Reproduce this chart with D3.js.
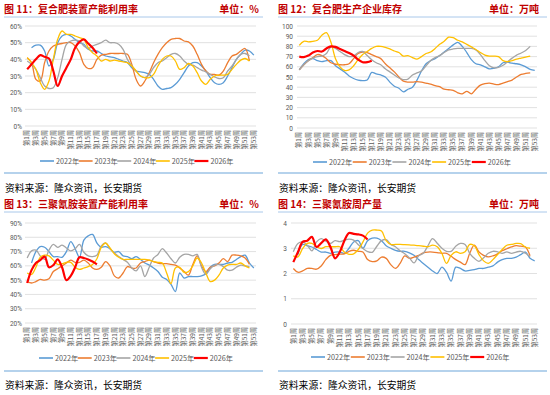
<!DOCTYPE html>
<html>
<head>
<meta charset="utf-8">
<script src="https://cdn.jsdelivr.net/npm/d3@7"></script>
<style>
  body { margin: 0; background: #fff; }
  svg { font-family: "Noto Sans CJK SC", "Noto Sans", sans-serif; }
</style>
</head>
<body>
<svg id="chart" width="550" height="395"></svg>
<script>
// categories
const weeks = d3.range(1, 54).map(i => "第" + i + "周");
const years = ["2022年", "2023年", "2024年", "2025年", "2026年"];
const colors = ["#5B9BD5", "#ED7D31", "#A5A5A5", "#FFC000", "#FF0000"];
const titles = ["图 11：复合肥装置产能利用率", "图 12：复合肥生产企业库存", "图 13：三聚氰胺装置产能利用率", "图 14：三聚氰胺周产量"];
const units = ["单位：%", "单位：万吨", "单位：%", "单位：万吨"];
const source = "资料来源：隆众资讯，长安期货";
const _ = null;

// 图11 复合肥装置产能利用率 (%)
const p11_2022 = [_,47,48.5,48.5,45,36,40,50,54,55,54,52,50,49,46,45,45,43.5,42,41.5,41,40,39,38,35,33,32.5,32,31,28,24,22,22.5,23,25,28,32,36,38,38,36,33,29,26,25,26,30,35,40,43,45.5,45,42.5];
const p11_2023 = [41,38,28,27,38,45,48,49,49.5,50,50,48,44,37,34.5,35,40,42.5,43,43.5,43.5,43.5,43.5,43,37,28,24,27,32,38,43,47,50,52,52.5,52.5,51,50.5,48,43,37,33,31,31,30.5,33,38,42,43,45,46.5,39,_];
const p11_2024 = [39,37,34,29,24,22.5,23,29,40,49,51,51.5,51,48,46.5,48,49,50,51.5,50,50,49,46,40,36,33,30,29,31,35,38,39,41,43,43.5,42,39,37,36.5,35,33.5,32.5,31,29.5,28.5,29,33,36,40,43,43.5,42,_];
const p11_2025 = [41,38,34,26,22,27,40,52,57,55,55,54,53,52,47,44,42,39,40,39,39.5,39,38.5,38,36,33,30,29,29,31,36,40,42,42,39,34,35,37.5,36,32,27,25,28,30,30.5,30.5,31,34,37,39.5,40.5,39,_];
const p11_2026 = [34,37,40,42.5,41.5,40.5,33,24,30,35,40,47,50.5,52,49.5,47,43.5];

// 图12 复合肥生产企业库存 (万吨)
const p12_2022 = [57,63,67,68,66,65,66,66,61,58,55,51,48.5,47,46.5,47,54.5,53,52,50,45,41,39,35.5,38,40,47,56,63,66,68,71,74.5,78,81.5,84,80,74,67,63,62,60,58,58.5,60,64,64.5,63.5,63,62,60,57.5,56.5];
const p12_2023 = [57,62,66,69,72,71,68,64,62.5,62,62,63,68,73,74.5,74,72,70,68,63,59,55,50,46,45,45,45.5,45,44,43,41.5,40.5,38,37.5,37,34.5,33.5,36,33.5,38,42,43.5,44,43,42.5,44,45.5,47,50,52.5,53.5,54,_];
const p12_2024 = [57,62,66,68.5,70,70.5,73,79.5,78,75,72,70,70.5,74,75,71,67,64,62,58,55,52,49,47.5,48,52,54,56,61,66,69,71,74,76.5,77.5,78,78,78,78,76.5,72,66,61,59,59.5,61.5,65,68.5,71.5,73.5,76,80,_];
const p12_2025 = [81,85,84.5,85,86,91,93.5,84,68,60,56.5,57,61,67,72,75,78,80,80,79,77.5,75.5,74,70.5,71,69,67.5,70,73,74.5,78,82,85,89,88.5,86,84.5,82,79.5,77,74,71.5,70.5,70.5,70,66,65,66,67.5,68.5,69.5,70.5,_];
const p12_2026 = [70,69.5,71,74,75.5,75,78,80,79.5,77.5,75.5,73.5,71,67,64.5,64.5,66];

// 图13 三聚氰胺装置产能利用率 (%)
const p13_2022 = [_,62,70,73.5,73,70,66.5,66.5,66,70,77,72,66,78,81,82,76,73,73.5,72,69.5,70,67,66.5,65,66.5,64.5,62,60.5,58.5,56,52,50.5,47,42,55,51.5,52.5,52.5,52.5,53,54.5,59,61,61,61,62,62.5,64.5,66.5,67.5,62,58.5];
const p13_2023 = [49,48,49,50.5,50,51,56,58,60,62,64,62.5,62.5,64,62,58.5,57.5,59,63,60,53,51.5,55,59.5,58.5,58.5,62,63,64,63,62,61.5,61.5,61,60.5,58.5,56,53.5,61,67,60,56,59,60,62,65,63,67.5,67.5,67,65.5,61,_];
const p13_2024 = [65.5,70.5,71,67,64.5,71,75,73,74.5,72.5,70.5,72,75,69.5,67,66.5,67.5,74,76,72,69,66.5,64.5,62.5,58.5,56.5,60,52.5,59,65.5,68,72,69,65,62,66,68,68,67,68,59,54,58,60.5,61,59.5,57,57,59,60.5,60,59.5,_];
const p13_2025 = [55,54,59,66,67.5,67,64,61,61.5,62.5,62.5,59,57.5,58.5,59.5,61,65,73,76,72.5,68.5,66,64.5,64.5,64.5,64.5,64.5,64.5,64,63,62.5,62,55,47.5,58.5,59,55.5,56,60,65.5,62,55,49,50,53.5,58.5,60.5,61,61,62,60,58.5,_];
const p13_2026 = [48,57,62,64,66.5,59,60.5,64.5,59,50,53,59,66,65.5,64.5,63,61];

// 图14 三聚氰胺周产量 (万吨)
const p14_2022 = [_,2.75,3.15,3.1,3.05,2.95,2.85,2.85,2.8,2.85,2.85,2.8,3.0,3.25,3.3,3.0,3.3,3.4,3.4,3.3,3.1,3.0,2.92,2.88,2.88,2.82,2.72,2.55,2.4,2.25,2.1,2.0,2.25,2.05,1.7,2.25,2.2,2.1,2.12,2.15,2.2,2.2,2.25,2.3,2.45,2.55,2.6,2.6,2.65,2.75,2.85,2.6,2.5];
const p14_2023 = [2.2,2.05,2.1,2.2,2.2,2.17,2.3,2.55,2.72,2.75,2.77,2.78,2.88,2.92,2.88,2.85,2.55,2.47,2.5,2.65,2.6,2.35,2.2,2.4,2.7,2.6,2.65,2.72,2.82,2.85,2.85,2.83,2.8,2.8,2.68,2.55,2.45,2.35,2.8,3.12,2.85,2.72,2.66,2.7,2.78,2.9,2.98,3.05,3.1,3.08,3.05,2.7,_];
const p14_2024 = [2.86,3.19,3.25,3.12,2.9,3.25,3.38,3.28,3.19,3.3,3.26,3.32,3.36,3.32,3.14,2.99,2.87,2.84,3.08,3.3,3.34,3.15,3.06,2.9,2.78,2.62,2.42,2.7,2.8,3.1,3.38,3.2,3.0,2.88,2.88,3.08,3.19,3.15,2.8,2.6,2.48,2.62,2.8,2.88,2.86,2.8,2.86,2.8,2.85,2.88,2.8,2.66,_];
const p14_2025 = [2.7,2.66,2.99,3.19,3.19,3.06,2.99,3.06,3.06,3.06,3.06,2.85,2.76,2.78,2.95,3.25,3.6,3.72,3.72,3.68,3.3,3.15,3.15,3.15,3.14,3.13,3.12,3.1,3.08,3.06,3.12,3.06,2.8,2.4,2.72,2.86,2.8,2.86,3.15,3.1,2.75,2.5,2.4,2.55,2.75,2.95,3.12,3.15,3.19,3.18,3.05,3.0,_];
const p14_2026 = [2.45,2.85,3.25,3.3,3.45,3.05,3.2,3.35,3.05,2.6,2.85,3.3,3.6,3.57,3.55,3.5,3.35];

const svg = d3.select("#chart");

/**
 * Draws one panel: title, grid, axes, lines, legend and source note.
 */
function drawPanel(p) {
    let g = svg.append("g");

    // title row
    g.append("text")
        .attr("x", p.left).attr("y", p.titleY)
        .style("font-size", "10px").style("font-weight", "bold")
        .attr("fill", "#C00000")
        .text(p.title);
    g.append("text")
        .attr("x", p.right).attr("y", p.titleY)
        .attr("text-anchor", "end")
        .style("font-size", "10px").style("font-weight", "bold")
        .attr("fill", "#C00000")
        .text(p.unit);
    g.append("line")
        .attr("x1", p.left).attr("x2", p.lineEnd)
        .attr("y1", p.titleY + 4.5).attr("y2", p.titleY + 4.5)
        .attr("stroke", "#A9C8EA").attr("stroke-width", 1);

    let x = d3.scaleBand().domain(weeks).range(p.xRange);
    let y = d3.scaleLinear().domain(p.yDomain).range(p.yRange);

    // gridlines
    g.selectAll(".grid")
        .data(p.yTicks)
        .join("line")
        .attr("x1", p.xRange[0]).attr("x2", p.xRange[1])
        .attr("y1", d => y(d)).attr("y2", d => y(d))
        .attr("stroke", "#D9D9D9").attr("stroke-width", 0.8);

    // y axis labels
    let yAxis = g.append("g")
        .attr("transform", `translate(${p.yLabelX + 3},0)`)
        .call(d3.axisLeft(y).tickValues(p.yTicks).tickSize(0).tickPadding(3).tickFormat(p.yFmt));
    yAxis.select(".domain").remove();
    yAxis.selectAll("text")
        .style("font-size", "6.5px").style("font-family", "Roboto, 'Noto Sans', sans-serif")
        .attr("fill", "#595959");

    // x labels, every other week, rotated
    g.selectAll(".wk")
        .data(weeks.filter((d, i) => i % 2 === 0))
        .join("text")
        .attr("transform", d => `translate(${x(d) + x.bandwidth() / 2 + 2.2},${p.weekY}) rotate(-90)`)
        .attr("text-anchor", "end")
        .style("font-size", "6.3px")
        .attr("fill", "#595959")
        .text(d => d);

    // series
    let line = d3.line()
        .defined(d => d != null)
        .x((d, i) => x(weeks[i]) + x.bandwidth() / 2)
        .y(d => y(d))
        .curve(d3.curveCatmullRom.alpha(0.5));

    p.series.forEach((s, k) => {
        g.append("path")
            .datum(s)
            .attr("fill", "none")
            .attr("stroke", colors[k])
            .attr("stroke-width", k === 4 ? 2.2 : 1.3)
            .attr("stroke-linejoin", "round")
            .attr("d", line);
    });

    // legend
    let lg = g.selectAll(".lg")
        .data(years)
        .join("g")
        .attr("transform", (d, i) => `translate(${p.legendX + i * p.legendStep},${p.legendY})`);
    lg.append("line")
        .attr("x1", 0).attr("x2", 14)
        .attr("stroke", (d, i) => colors[i])
        .attr("stroke-width", (d, i) => i === 4 ? 2.2 : 1.6);
    lg.append("text")
        .attr("x", 16).attr("y", 2.6)
        .style("font-size", "7.2px")
        .attr("fill", "#595959")
        .text(d => d);

    // divider and source
    g.append("line")
        .attr("x1", p.left).attr("x2", p.lineEnd)
        .attr("y1", p.dividerY).attr("y2", p.dividerY)
        .attr("stroke", "#9DC3E6").attr("stroke-width", 1.6);
    g.append("text")
        .attr("x", p.left + 1).attr("y", p.sourceY)
        .style("font-size", "9.8px")
        .attr("fill", "#000")
        .text(source);
}

drawPanel({
    title: titles[0], unit: units[0], left: 4, right: 259, lineEnd: 263, titleY: 12.5,
    xRange: [25, 256], yDomain: [0, 60], yRange: [126, 26], yTicks: d3.range(0, 61, 10),
    yFmt: d => d + "%", yLabelX: 22, weekY: 130,
    legendX: 40, legendStep: 38.6, legendY: 161, dividerY: 173, sourceY: 192,
    series: [p11_2022, p11_2023, p11_2024, p11_2025, p11_2026]
});

drawPanel({
    title: titles[1], unit: units[1], left: 278, right: 539, lineEnd: 547, titleY: 12.5,
    xRange: [297, 537], yDomain: [0, 100], yRange: [128, 26], yTicks: d3.range(0, 101, 10),
    yFmt: d => d, yLabelX: 293, weekY: 132,
    legendX: 313, legendStep: 39.7, legendY: 162, dividerY: 173, sourceY: 192,
    series: [p12_2022, p12_2023, p12_2024, p12_2025, p12_2026]
});

drawPanel({
    title: titles[2], unit: units[2], left: 4, right: 259, lineEnd: 263, titleY: 207.5,
    xRange: [25, 256], yDomain: [20, 90], yRange: [323, 223], yTicks: d3.range(20, 91, 10),
    yFmt: d => d + "%", yLabelX: 22, weekY: 327,
    legendX: 39, legendStep: 38.7, legendY: 358, dividerY: 371, sourceY: 389,
    series: [p13_2022, p13_2023, p13_2024, p13_2025, p13_2026]
});

drawPanel({
    title: titles[3], unit: units[3], left: 278, right: 539, lineEnd: 547, titleY: 207.5,
    xRange: [291, 537], yDomain: [0, 4], yRange: [324, 223], yTicks: d3.range(0, 5, 1),
    yFmt: d => d, yLabelX: 287, weekY: 328,
    legendX: 311, legendStep: 39.8, legendY: 357, dividerY: 371, sourceY: 389,
    series: [p14_2022, p14_2023, p14_2024, p14_2025, p14_2026]
});
</script>
</body>
</html>
